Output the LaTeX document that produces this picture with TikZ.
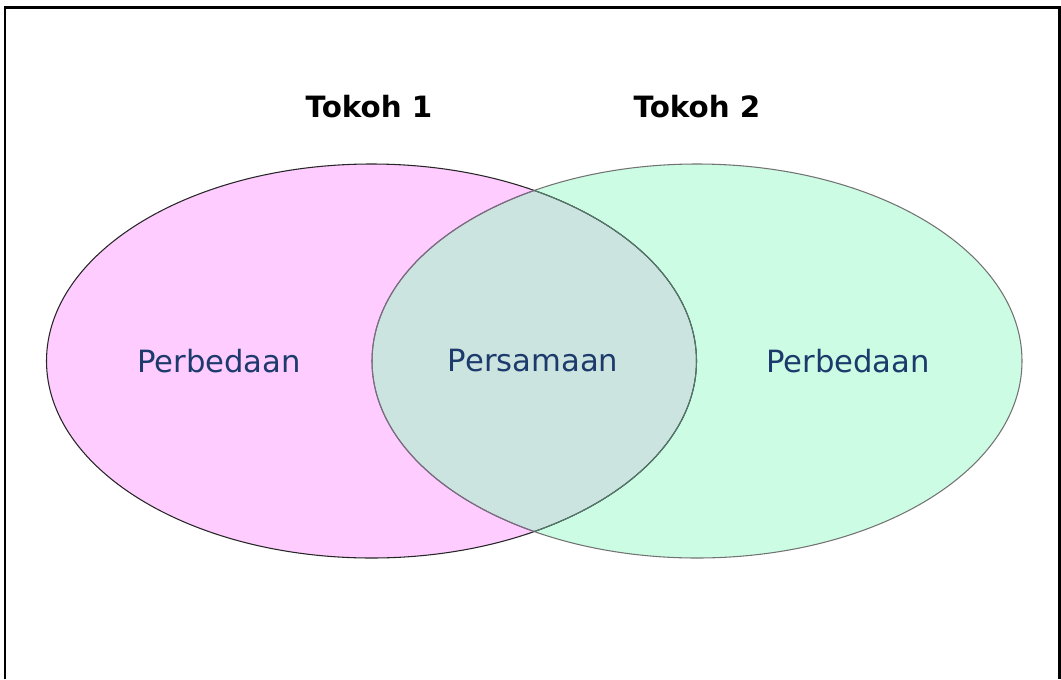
\documentclass[tikz,border=0pt]{standalone}
\usepackage{fontspec}
\setmainfont{DejaVu Sans}
\usetikzlibrary{shapes.geometric}
\definecolor{pinkset}{HTML}{FFCCFF}
\definecolor{greenset}{HTML}{CCFDE4}
\definecolor{midset}{HTML}{CCE4E0}
\definecolor{labelblue}{HTML}{1C3A6C}
\definecolor{edgegreen}{HTML}{557A6C}
\definecolor{edgepink}{HTML}{7C6A84}

\begin{document}
\begin{tikzpicture}[x=0.75pt,y=-0.75pt,
  set/.style={ellipse, minimum width=487.5pt, minimum height=295.5pt, inner sep=0pt},
  rim/.style={line width=0.8pt},
  title/.style={font=\fontsize{22}{26}\selectfont\bfseries},
  word/.style={text=labelblue, font=\fontsize{23}{28}\selectfont}]

  \useasboundingbox (0,0) rectangle (1061,679);

% define the frame
  \coordinate (fbl) at (5,679);
  \coordinate (ftl) at (5,7.5);
  \coordinate (ftr) at (1059.5,7.5);
  \coordinate (fbr) at (1059.5,679);
  \draw[line width=2.2pt] (fbl) -- (ftl) -- (ftr) -- (fbr);

% define the two sets
  \node[set, fill=pinkset]  (t1) at (371.5,361) {};
  \node[set, fill=greenset] (t2) at (697,361)   {};

% the common part
  \begin{scope}
    \clip (t1.center) ellipse (243.75pt and 147.75pt);
    \fill[midset] (t2.center) ellipse (243.75pt and 147.75pt);
  \end{scope}

% outlines
  \draw[rim, black!55] (t2.center) ellipse (243.75pt and 147.75pt);
  \draw[rim, black!85] (t1.center) ellipse (243.75pt and 147.75pt);
  \begin{scope}
    \clip (t2.center) ellipse (243.75pt and 147.75pt);
    \draw[rim, edgegreen] (t1.center) ellipse (243.75pt and 147.75pt);
  \end{scope}
  \begin{scope}
    \clip (t1.center) ellipse (243.75pt and 147.75pt);
    \draw[rim, edgepink] (t2.center) ellipse (243.75pt and 147.75pt);
  \end{scope}

% define the labels
  \node[title] (n1) at (369,107) {Tokoh 1};
  \node[title] (n2) at (697,107) {Tokoh 2};
  \node[word]  (d1) at (219,361) {Perbedaan};
  \node[word]  (s)  at (533,361) {Persamaan};
  \node[word]  (d2) at (848,361) {Perbedaan};

\end{tikzpicture}
\end{document}
